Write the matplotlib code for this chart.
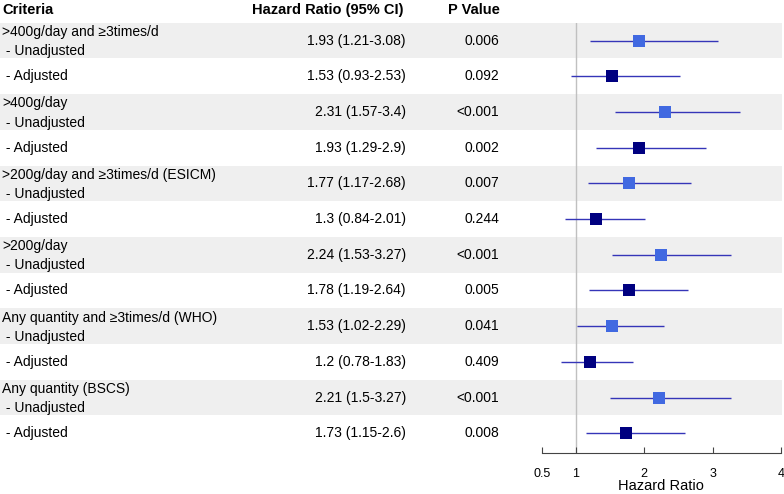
import numpy as np
import matplotlib.pyplot as plt

plt.rcParams['font.family'] = ['Liberation Sans', 'DejaVu Sans']

groups = [">400g/day and \u22653times/d", ">400g/day",
          ">200g/day and \u22653times/d (ESICM)", ">200g/day",
          "Any quantity and \u22653times/d (WHO)", "Any quantity (BSCS)"]
# unadjusted / adjusted hazard ratios with 95% CI
hr_un = [1.93, 2.31, 1.77, 2.24, 1.53, 2.21]
lo_un = [1.21, 1.57, 1.17, 1.53, 1.02, 1.5]
hi_un = [3.08, 3.4, 2.68, 3.27, 2.29, 3.27]
p_un = ["0.006", "<0.001", "0.007", "<0.001", "0.041", "<0.001"]
hr_ad = [1.53, 1.93, 1.3, 1.78, 1.2, 1.73]
lo_ad = [0.93, 1.29, 0.84, 1.19, 0.78, 1.15]
hi_ad = [2.53, 2.9, 2.01, 2.64, 1.83, 2.6]
p_ad = ["0.092", "0.002", "0.244", "0.005", "0.409", "0.008"]
xticks = [0.5, 1, 2, 3, 4]

W, H = 784, 494
top_px, row_px, axis_px = 22.7, 35.7, 453
fig = plt.figure(figsize=(W / 100, H / 100), dpi=100)

# background axes in pixel x / row-unit y
ax0 = fig.add_axes([0, 0, 1, 1])
ax0.set_xlim(0, W)
ax0.set_ylim(-0.5 + (H - top_px) / row_px, -0.5 - top_px / row_px)
ax0.axis('off')

n = len(groups)
for i in range(n):
    yu, ya = 2 * i, 2 * i + 1
    ax0.axhspan(yu - 0.5, yu + 0.5, xmax=782 / W, color='#efefef', lw=0, zorder=0)
    ax0.text(2, yu - 0.24, groups[i], fontsize=10, va='center', ha='left')
    ax0.text(2, yu + 0.30, " - Unadjusted", fontsize=10, va='center', ha='left')
    ax0.text(2, ya, " - Adjusted", fontsize=10, va='center', ha='left')
    ax0.text(406, yu, f"{hr_un[i]:g} ({lo_un[i]:g}-{hi_un[i]:g})", fontsize=10, va='center', ha='right')
    ax0.text(406, ya, f"{hr_ad[i]:g} ({lo_ad[i]:g}-{hi_ad[i]:g})", fontsize=10, va='center', ha='right')
    ax0.text(499, yu, p_un[i], fontsize=10, va='center', ha='right')
    ax0.text(499, ya, p_ad[i], fontsize=10, va='center', ha='right')

yh = -0.5 - 12.5 / row_px
ax0.text(2, yh, "Criteria", fontsize=10.5, fontweight='bold', va='center', ha='left')
ax0.text(404, yh, "Hazard Ratio (95% CI)", fontsize=10.5, fontweight='bold', va='center', ha='right')
ax0.text(500, yh, "P Value", fontsize=10.5, fontweight='bold', va='center', ha='right')

# forest panel
x0, x1 = 541.7, 781
ax = fig.add_axes([x0 / W, 1 - axis_px / H, (x1 - x0) / W, (axis_px - top_px) / H])
ax.set_facecolor('none')
ax.set_xlim(0.5, 4)
ax.set_ylim(-0.5 + (axis_px - top_px) / row_px, -0.5)
ax.axvline(1, color='#c0c0c0', lw=1, zorder=1)

yu = np.arange(n) * 2
ya = yu + 1
ax.hlines(yu, lo_un, hi_un, color='#3535b8', lw=1, zorder=2)
ax.hlines(ya, lo_ad, hi_ad, color='#3535b8', lw=1, zorder=2)
ax.plot(hr_un, yu, 's', color='#4169e1', ms=8, mew=0, zorder=3)
ax.plot(hr_ad, ya, 's', color='#000080', ms=8, mew=0, zorder=3)

for s in ['top', 'right', 'left']:
    ax.spines[s].set_visible(False)
ax.spines['bottom'].set_color('#444444')
ax.set_yticks([])
ax.set_xticks(xticks)
ax.set_xticklabels([f"{t:g}" for t in xticks])
ax.tick_params(axis='x', direction='in', length=4, color='#444444', labelsize=9, pad=11)
ax.set_xlabel("Hazard Ratio", fontsize=10.5, labelpad=-1)

fig.savefig('out.png', dpi=100)
